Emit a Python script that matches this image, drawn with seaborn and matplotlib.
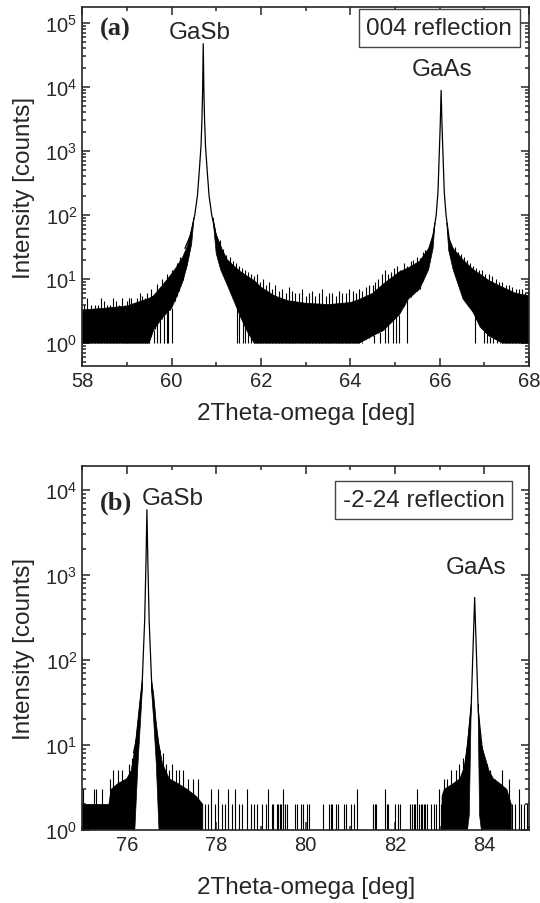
import numpy as np
import pandas as pd
import matplotlib
matplotlib.use("Agg")
import matplotlib.pyplot as plt
import matplotlib.ticker as mticker
import seaborn as sns

nan = np.nan

# ---- panel (a): 004 reflection ----
a_peak1_x = [60.30, 60.43, 60.52, 60.58, 60.62, 60.66, 60.68, 60.695, 60.71,
             60.725, 60.74, 60.76, 60.80, 60.84, 60.90, 60.99, 61.12]
a_peak1_y = [30, 50, 100, 200, 470, 1200, 3000, 8000, 47000,
             8000, 3000, 1200, 470, 200, 100, 50, 30]
a_peak2_x = [65.70, 65.83, 65.92, 65.96, 65.985, 66.01, 66.03,
             66.05, 66.075, 66.10, 66.14, 66.22, 66.35]
a_peak2_y = [22, 38, 100, 230, 760, 2500, 8800,
             2500, 760, 230, 100, 38, 22]

a_env_x = [58.00, 58.50, 59.00, 59.50, 59.60, 59.80, 60.00, 60.10, 60.25, 60.35, 60.45, 60.50, nan,
           60.93, 61.00, 61.10, 61.25, 61.40, 61.55, 61.70, 61.85, 62.00, 62.30, 62.60, 63.00,
           63.50, 64.00, 64.20, 64.50, 64.75, 65.10, 65.30, 65.55, 65.75, 65.85, 65.89, nan,
           66.16, 66.20, 66.30, 66.52, 66.75, 66.90, 67.10, 67.40, 67.70, 68.00]
a_env_top = [3.3, 3.5, 3.8, 5.0, 5.5, 8.0, 12, 15, 22, 32, 60, 90, nan,
             90, 50, 32, 20, 16, 13, 11, 9.5, 7.5, 5.5, 4.6, 4.2,
             4.0, 4.3, 4.8, 6.0, 8.5, 13, 15, 19, 30, 50, 75, nan,
             75, 45, 30, 20, 14, 12, 9.5, 7.5, 6.0, 5.5]
a_env_bot = [1, 1, 1, 1, 1.6, 2.5, 3.5, 5, 9, 16, 35, 85, nan,
             85, 25, 14, 8, 4.5, 2.5, 1.5, 1, 1, 1, 1, 1,
             1, 1, 1, 1.3, 1.6, 2.8, 4.9, 7, 14, 30, 70, nan,
             70, 28, 14, 4.9, 3, 1.8, 1.3, 1, 1, 1]

a_spike_x = [58.05, 58.12, 58.20, 58.28, 58.35, 58.43, 58.50, 58.56, 58.62, 58.69, 58.75,
             58.83, 58.90, 58.96, 59.00, 59.05, 59.10, 59.16, 59.22, 59.29, 59.35, 59.40,
             59.45, 59.50, 59.55, 59.62, 59.68, 59.73, 59.78, 59.84, 59.90, 59.96, 60.02,
             60.07, 60.12, 60.16, 60.20, 60.26,
             61.08, 61.15, 61.22, 61.30, 61.37, 61.45, 61.51, 61.58, 61.65, 61.72, 61.78,
             61.85, 61.91, 61.98, 62.05, 62.12, 62.18, 62.25, 62.32, 62.40, 62.47, 62.55,
             62.62, 62.70, 62.77, 62.85, 62.92, 63.00, 63.07, 63.15, 63.22, 63.30, 63.37,
             63.45, 63.52, 63.60, 63.67, 63.75, 63.82, 63.90, 63.97, 64.05, 64.12, 64.20,
             64.27, 64.35, 64.42, 64.50, 64.56, 64.62, 64.70, 64.78, 64.85, 64.92, 64.98,
             65.05, 65.12, 65.20, 65.27, 65.35, 65.41, 65.48, 65.55, 65.62, 65.68,
             66.33, 66.40, 66.47, 66.55, 66.61, 66.68, 66.75, 66.82, 66.88, 66.95, 67.02,
             67.10, 67.17, 67.25, 67.32, 67.40, 67.47, 67.55, 67.62, 67.70, 67.77, 67.85,
             67.91, 67.97]
a_spike_y = [4, 5, 4, 4, 4, 5, 4.5, 4, 4, 5, 4.5,
             4, 5, 4, 4.5, 5, 5, 4, 5, 6, 5.5, 5,
             6, 5, 7, 6, 8.5, 7, 10, 9, 12, 10, 14,
             12, 18, 15, 22, 20,
             40, 30, 24, 22, 19, 18, 16, 15, 14, 13, 12,
             11, 12, 9, 10, 8, 9, 7, 8, 6.5, 7, 6,
             7.5, 6.5, 6, 6, 7, 5.5, 6, 6.5, 5.5, 6, 7,
             5.5, 6, 6, 5.5, 6.5, 6, 6, 7, 6.5, 6, 7,
             6.5, 7.5, 8, 8, 9, 10, 12, 14, 12, 13, 15,
             16, 14, 18, 16, 19, 20, 22, 21, 26, 28,
             32, 26, 25, 22, 20, 18, 16, 15, 14, 14, 12,
             12, 11, 10, 9, 9, 8, 8, 7.5, 7, 7, 7,
             6, 6.5]
a_dip_x = [59.60, 59.68, 59.75, 59.83, 59.90, 59.93, 60.00, 61.47, 61.52, 61.60,
           61.65, 61.72, 61.78, 64.26, 64.52, 64.67, 64.78, 64.85, 64.96, 65.02,
           65.08, 65.26, 66.79, 66.98, 67.05, 67.13, 67.20, 67.28, 67.35]

# ---- panel (b): -2-24 reflection ----
b_peak1_x = [76.15, 76.22, 76.34, 76.40, 76.43, 76.45, 76.47, 76.50, 76.56, 76.68, 76.75]
b_peak1_y = [8, 12, 47, 290, 1500, 5800, 1500, 290, 47, 12, 8]
b_peak2_x = [83.55, 83.62, 83.70, 83.735, 83.765, 83.78, 83.795, 83.825, 83.86, 83.94, 84.02]
b_peak2_y = [5, 10, 25, 98, 300, 540, 300, 98, 25, 10, 5]

b_env_x = [75.00, 75.60, 75.65, 75.80, 76.00, 76.10, 76.18, 76.25, 76.31, 76.35, nan,
           76.55, 76.60, 76.66, 76.72, 76.80, 76.95, 77.15, 77.35, 77.55, 77.70, nan,
           83.05, 83.10, 83.30, 83.45, 83.55, 83.62, 83.66, 83.70, nan,
           83.86, 83.89, 83.93, 84.02, 84.10, 84.20, 84.35, 84.50, 84.60]
b_env_top = [2, 2, 3, 3.5, 4, 5, 9, 20, 40, 60, nan,
             60, 40, 18, 10, 6, 4, 3.5, 3, 2.5, 2, nan,
             2.5, 3, 3.5, 4, 5.5, 10, 18, 30, nan,
             30, 16, 10, 7, 5, 4, 3.5, 3, 2]
b_env_bot = [1, 1, 1, 1, 1, 1, 1, 6, 20, 47, nan,
             47, 20, 6, 1, 1, 1, 1, 1, 1, 1, nan,
             1, 1, 1, 1, 1, 1, 1.5, 22, nan,
             22, 1.5, 1, 1, 1, 1, 1, 1, 1]

b_spike_x = [75.03, 75.26, 75.32, 75.45, 75.62, 75.70, 75.81, 75.89, 75.96, 76.04, 76.11,
             76.80, 76.87, 76.95, 77.02, 77.10, 77.17, 77.25, 77.36, 77.48, 77.59,
             77.74, 77.82, 77.89, 77.97, 78.05, 78.12, 78.20, 78.27, 78.35, 78.42, 78.50,
             78.58, 78.69, 78.77, 78.84, 78.92, 79.03, 79.11, 79.16, 79.24, 79.27, 79.35,
             79.39, 79.42, 79.46, 79.50, 79.54, 79.58, 79.77, 79.80, 79.89, 79.95, 80.02,
             80.07, 80.39, 80.52, 80.56, 80.60, 80.67, 80.73, 80.86, 80.90, 81.02, 81.09,
             81.14, 81.51, 81.55, 81.58, 81.77, 81.81, 81.84, 82.00, 82.07, 82.11, 82.33,
             82.38, 82.42, 82.45, 82.49, 82.53, 82.57, 82.61, 82.64, 82.68, 82.72, 82.80,
             82.87, 82.91, 82.98, 83.02, 83.06,
             83.10, 83.17, 83.25, 83.36, 83.44, 83.52,
             84.06, 84.12, 84.23, 84.39, 84.54,
             84.62, 84.69, 84.77, 84.82, 84.88, 84.95, 84.99]
b_spike_y = [3, 3, 3, 3, 4, 5, 5, 5, 4, 6, 7,
             8, 6, 5, 6, 5, 5, 5, 4, 4, 4,
             2, 2, 3, 2, 3, 2, 2, 3, 2, 3, 2,
             2, 3, 2, 2, 2, 2, 2, 3, 2, 2, 2,
             2, 2, 2, 3, 2, 2, 2, 2, 2, 2, 2,
             2, 2, 2, 2, 2, 2, 2, 2, 2, 2, 2,
             3, 2, 2, 2, 3, 2, 2, 2, 2, 2, 2,
             2, 2, 2, 3, 2, 2, 2, 2, 2, 2, 2,
             2, 2, 3, 2, 2,
             4, 4, 5, 5, 6, 7,
             6, 5, 4, 5, 4,
             2, 2, 3, 2, 2, 2, 2]


def draw_panel(ax, peaks, env_x, env_top, env_bot, spike_x, spike_y, dip_x=None):
    ex = np.array(env_x, dtype=float)
    et = np.array(env_top, dtype=float)
    eb = np.array(env_bot, dtype=float)
    ax.fill_between(ex, eb, et, color="black", lw=0.5, edgecolor="black")
    ok = ~np.isnan(ex)
    base = np.interp(spike_x, ex[ok], eb[ok])
    ax.vlines(spike_x, base, spike_y, color="black", lw=0.8)
    if dip_x is not None:
        top = np.interp(dip_x, ex[ok], eb[ok])
        ax.vlines(dip_x, 1, top, color="black", lw=0.8)
    for px, py in peaks:
        sns.lineplot(x=px, y=py, ax=ax, color="black", lw=0.9, sort=False)


sns.set_style("ticks")
plt.rcParams["font.family"] = ["Liberation Sans", "DejaVu Sans"]
plt.rcParams["axes.linewidth"] = 1.2

fig = plt.figure(figsize=(5.4, 9.04), dpi=100)
ax1 = fig.add_axes([0.152, 0.594, 0.828, 0.397])
ax2 = fig.add_axes([0.152, 0.0808, 0.828, 0.4027])

for ax in (ax1, ax2):
    ax.set_yscale("log")

draw_panel(ax1, [(a_peak1_x, a_peak1_y), (a_peak2_x, a_peak2_y)],
           a_env_x, a_env_top, a_env_bot, a_spike_x, a_spike_y, a_dip_x)
draw_panel(ax2, [(b_peak1_x, b_peak1_y), (b_peak2_x, b_peak2_y)],
           b_env_x, b_env_top, b_env_bot, b_spike_x, b_spike_y)

ax1.set_xlim(58, 68)
ax1.set_ylim(0.44, 1.75e5)
ax2.set_xlim(75, 85)
ax2.set_ylim(1, 1.9e4)

for ax, xlab_y in ((ax1, -0.10), (ax2, -0.126)):
    ax.xaxis.set_major_locator(mticker.MultipleLocator(2))
    ax.xaxis.set_minor_locator(mticker.MultipleLocator(1))
    ax.yaxis.set_major_locator(mticker.LogLocator(base=10, numticks=10))
    ax.yaxis.set_minor_locator(mticker.LogLocator(base=10, subs=np.arange(2, 10), numticks=10))
    ax.yaxis.set_minor_formatter(mticker.NullFormatter())
    ax.tick_params(which="both", direction="in", top=True, right=True,
                   labelsize=14.5, width=1.1)
    ax.tick_params(which="major", length=6)
    ax.tick_params(which="minor", length=3)
    ax.set_xlabel("2Theta-omega [deg]", fontsize=17.5)
    ax.set_ylabel("Intensity [counts]", fontsize=17.5)
    ax.yaxis.set_label_coords(-0.105, 0.5)
    ax.xaxis.set_label_coords(0.5, xlab_y)

serif = dict(family=["Liberation Serif", "DejaVu Serif"], weight="bold", fontsize=19)
box = dict(boxstyle="square,pad=0.32", fc="white", ec="#444444", lw=1.0)

ax1.text(0.04, 0.94, "(a)", transform=ax1.transAxes, va="center", ha="left", **serif)
ax1.text(60.64, 7.2e4, "GaSb", ha="center", va="center", fontsize=17.5)
ax1.text(66.05, 1.9e4, "GaAs", ha="center", va="center", fontsize=17.5)
ax1.text(0.799, 0.942, "004 reflection", transform=ax1.transAxes,
         ha="center", va="center", fontsize=17.5, bbox=box)

ax2.text(0.04, 0.901, "(b)", transform=ax2.transAxes, va="center", ha="left", **serif)
ax2.text(77.02, 8.0e3, "GaSb", ha="center", va="center", fontsize=17.5)
ax2.text(83.82, 1.23e3, "GaAs", ha="center", va="center", fontsize=17.5)
ax2.text(0.764, 0.907, "-2-24 reflection", transform=ax2.transAxes,
         ha="center", va="center", fontsize=17.5, bbox=box)

fig.savefig("out.png", dpi=100)
